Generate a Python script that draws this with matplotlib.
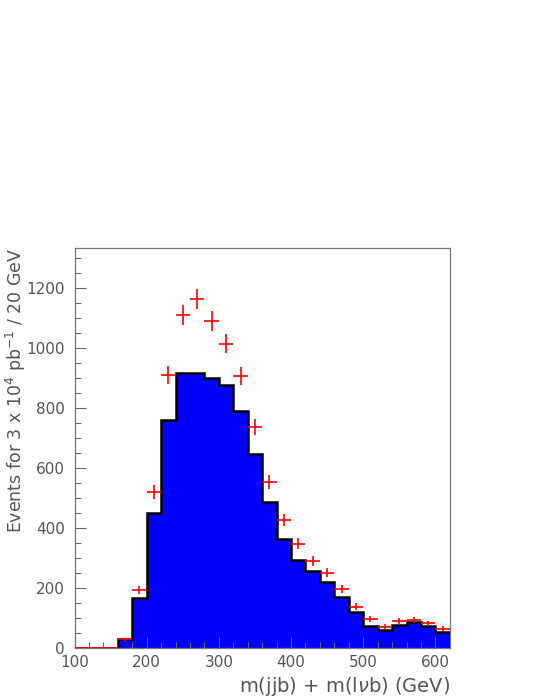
import numpy as np
import matplotlib
matplotlib.use("Agg")
import matplotlib.pyplot as plt
from matplotlib.ticker import MultipleLocator

# bin edges (GeV) and histogram contents
bin_edges = list(range(100, 640, 20))
hist_counts = [0, 0, 0, 30, 165, 450, 760, 915, 915, 900, 875, 790, 645,
               485, 362, 293, 258, 219, 171, 119, 73, 60, 77, 86, 73, 54]

# red crosses (bin centres, counts)
pt_x = [110, 130, 150, 170, 190, 210, 230, 250, 270, 290, 310, 330, 350,
        370, 390, 410, 430, 450, 470, 490, 510, 530, 550, 570, 590, 610]
pt_y = [0, 0, 0, 29, 193, 520, 910, 1108, 1163, 1090, 1013, 907, 736,
        553, 426, 347, 291, 251, 196, 137, 98, 71, 91, 93, 82, 64]

fig = plt.figure(figsize=(5.4, 6.99), dpi=100)
ax = fig.add_axes([0.138, 0.073, 0.695, 0.572])

txt = "#555555"

ax.stairs(hist_counts, bin_edges, fill=True, color="#0000ff", zorder=1)
ax.stairs(hist_counts, bin_edges, color="black", linewidth=1.8, zorder=2)

ax.errorbar(pt_x, pt_y, xerr=10, yerr=np.sqrt(pt_y), fmt="none",
            ecolor="red", elinewidth=1.2, capsize=0, zorder=3)

ax.set_xlim(100, 620)
ax.set_ylim(0, 1332)

ax.xaxis.set_major_locator(MultipleLocator(100))
ax.xaxis.set_minor_locator(MultipleLocator(20))
ax.yaxis.set_major_locator(MultipleLocator(200))
ax.yaxis.set_minor_locator(MultipleLocator(50))
ax.tick_params(which="both", direction="in", top=False, right=False,
               colors="#666666", labelcolor=txt, labelsize=11, width=0.8)
ax.tick_params(which="major", length=8)
ax.tick_params(which="minor", length=4)
ax.tick_params(axis="x", pad=5)
ax.tick_params(axis="y", pad=7)

for s in ax.spines.values():
    s.set_color("#777777")
    s.set_linewidth(0.9)

ax.set_ylabel(r"Events for 3 x 10$^4$ pb$^{-1}$ / 20 GeV", loc="top",
              color=txt, fontsize=12.5)
ax.yaxis.set_label_coords(-0.125, 1.0)
ax.set_xlabel(r"m(jjb) + m(l$\nu$b) (GeV)", loc="right", color=txt,
              fontsize=14, labelpad=4)

fig.savefig("out.png", dpi=100)
